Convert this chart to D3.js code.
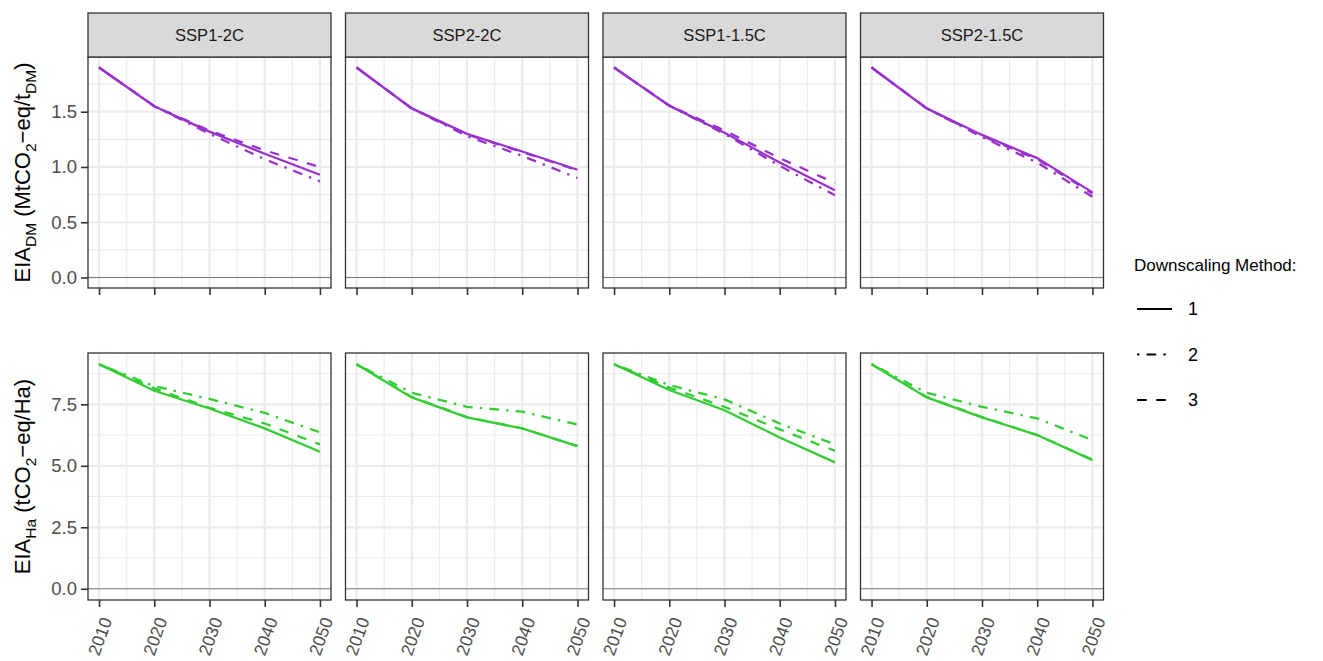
<!DOCTYPE html>
<html>
<head>
<meta charset="utf-8">
<script src="https://cdn.jsdelivr.net/npm/d3@7"></script>
<style>
  body { margin: 0; background: #fff; }
  svg { display: block; font-family: "Liberation Sans", Arial, sans-serif; }
</style>
</head>
<body>
<div id="chart"></div>
<script>
// data
const years = [2010, 2020, 2030, 2040, 2050];
const scenarios = ["SSP1-2C", "SSP2-2C", "SSP1-1.5C", "SSP2-1.5C"];
const methods = ["1", "2", "3"];

// EIA_DM (MtCO2-eq / t_DM) — one row per scenario
const dmMethod1 = [
  [1.90, 1.55, 1.32, 1.12, 0.93],
  [1.90, 1.53, 1.30, 1.14, 0.975],
  [1.90, 1.555, 1.31, 1.04, 0.79],
  [1.90, 1.53, 1.29, 1.08, 0.77]
];
const dmMethod2 = [
  [1.90, 1.55, 1.30, 1.07, 0.87],
  [1.90, 1.53, 1.28, 1.10, 0.90],
  [1.90, 1.555, 1.30, 1.01, 0.745],
  [1.90, 1.53, 1.27, 1.04, 0.73]
];
const dmMethod3 = [
  [1.90, 1.55, 1.33, 1.15, 1.00],
  [1.90, 1.53, 1.295, 1.135, 0.97],
  [1.90, 1.555, 1.33, 1.08, 0.855],
  [1.90, 1.53, 1.28, 1.07, 0.76]
];

// EIA_Ha (tCO2-eq / Ha)
const haMethod1 = [
  [9.13, 8.05, 7.33, 6.52, 5.57],
  [9.13, 7.78, 6.97, 6.52, 5.80],
  [9.13, 8.08, 7.26, 6.15, 5.14],
  [9.13, 7.78, 6.97, 6.25, 5.23]
];
const haMethod2 = [
  [9.13, 8.24, 7.72, 7.15, 6.36],
  [9.13, 7.97, 7.40, 7.20, 6.68],
  [9.13, 8.28, 7.70, 6.72, 5.87],
  [9.13, 7.97, 7.40, 6.93, 6.04]
];
const haMethod3 = [
  [9.13, 8.15, 7.36, 6.72, 5.87],
  [9.13, 7.80, 6.98, 6.52, 5.80],
  [9.13, 8.18, 7.40, 6.48, 5.61],
  [9.13, 7.80, 6.98, 6.25, 5.25]
];

const dmTicks = [0, 0.5, 1.0, 1.5];
const dmMinor = [0.25, 0.75, 1.25, 1.75];
const haTicks = [0, 2.5, 5.0, 7.5];
const haMinor = [1.25, 3.75, 6.25, 8.75];
const yearMinor = [2015, 2025, 2035, 2045];

// layout
const W = 1323, H = 661;
const panelLeft = 88, panelStep = 257.5, panelW = 243;
const tickLen = 7;
const dashes = { "1": null, "2": "2.4,7.2,9.6,7.2", "3": "9.6,9.6" };

const svg = d3.select("#chart").append("svg")
  .attr("width", W)
  .attr("height", H);

const x = d3.scaleLinear()
  .domain([2008, 2052])
  .range([0, panelW]);

// 5% expansion like ggplot
function expanded(series) {
  const all = series.flat().flat();
  const lo = Math.min(0, d3.min(all)), hi = d3.max(all);
  const pad = (hi - lo) * 0.05;
  return [lo - pad, hi + pad];
}

const rows = [
  {top: 57, bottom: 288, strip: true, color: "#9932CC",
   series: [dmMethod1, dmMethod2, dmMethod3], ticks: dmTicks, minor: dmMinor,
   title: [["EIA", 0], ["DM", 1], [" (MtCO", 0], ["2", 1], ["\u2212eq/t", 0], ["DM", 1], [")", 0]]},
  {top: 353, bottom: 600, strip: false, color: "#32CD32",
   series: [haMethod1, haMethod2, haMethod3], ticks: haTicks, minor: haMinor,
   title: [["EIA", 0], ["Ha", 1], [" (tCO", 0], ["2", 1], ["\u2212eq/Ha)", 0]]}
];

rows.forEach((row, r) => {
  const y = d3.scaleLinear()
    .domain(expanded(row.series))
    .range([row.bottom - row.top, 0]);
  const ph = row.bottom - row.top;

  const line = d3.line()
    .x((d, i) => x(years[i]))
    .y(d => y(d));

  scenarios.forEach((sc, s) => {
    const g = svg.append("g")
      .attr("transform", `translate(${panelLeft + s * panelStep},${row.top})`);

    // grid
    g.selectAll(".minor-y").data(row.minor).enter().append("line")
      .attr("x1", 0).attr("x2", panelW)
      .attr("y1", d => y(d)).attr("y2", d => y(d))
      .attr("stroke", "#EBEBEB").attr("stroke-width", 1.1);
    g.selectAll(".minor-x").data(yearMinor).enter().append("line")
      .attr("y1", 0).attr("y2", ph)
      .attr("x1", d => x(d)).attr("x2", d => x(d))
      .attr("stroke", "#EBEBEB").attr("stroke-width", 1.1);
    g.selectAll(".major-y").data(row.ticks).enter().append("line")
      .attr("x1", 0).attr("x2", panelW)
      .attr("y1", d => y(d)).attr("y2", d => y(d))
      .attr("stroke", "#EBEBEB").attr("stroke-width", 2.2);
    g.selectAll(".major-x").data(years).enter().append("line")
      .attr("y1", 0).attr("y2", ph)
      .attr("x1", d => x(d)).attr("x2", d => x(d))
      .attr("stroke", "#EBEBEB").attr("stroke-width", 2.2);

    // zero line
    g.append("line")
      .attr("x1", 0).attr("x2", panelW)
      .attr("y1", y(0)).attr("y2", y(0))
      .attr("stroke", "#7F7F7F").attr("stroke-width", 1.2);

    // series
    methods.forEach((m, k) => {
      g.append("path")
        .datum(row.series[k][s])
        .attr("d", line)
        .attr("fill", "none")
        .attr("stroke", row.color)
        .attr("stroke-width", 2.3)
        .attr("stroke-dasharray", dashes[m]);
    });

    // border
    g.append("rect")
      .attr("width", panelW).attr("height", ph)
      .attr("fill", "none")
      .attr("stroke", "#333333").attr("stroke-width", 1.3);

    // strip
    if (row.strip) {
      g.append("rect")
        .attr("y", -44).attr("width", panelW).attr("height", 44)
        .attr("fill", "#D9D9D9")
        .attr("stroke", "#333333").attr("stroke-width", 1.3);
      g.append("text")
        .attr("x", panelW / 2).attr("y", -22).attr("dy", "0.35em")
        .attr("text-anchor", "middle")
        .attr("fill", "#1A1A1A")
        .style("font-size", "16.5px")
        .text(sc);
    }

    // x axis
    const xAxis = g.append("g")
      .attr("transform", `translate(0,${ph})`)
      .call(d3.axisBottom(x).tickValues(years).tickSize(tickLen).tickSizeOuter(0).tickFormat(d3.format("d")));
    xAxis.select(".domain").remove();
    xAxis.selectAll("line").attr("stroke", "#333333").attr("stroke-width", 1.6);
    if (r === rows.length - 1) {
      xAxis.selectAll("text")
        .attr("x", 0).attr("y", 0).attr("dy", "0.35em")
        .attr("transform", `translate(7,${tickLen + 11}) rotate(-70)`)
        .style("text-anchor", "end")
        .style("font-size", "17.5px")
        .style("font-family", "Liberation Sans, Arial, sans-serif")
        .attr("fill", "#4D4D4D");
    } else {
      xAxis.selectAll("text").remove();
    }

    // y axis on first column only
    if (s === 0) {
      const yAxis = g.append("g")
        .call(d3.axisLeft(y).tickValues(row.ticks).tickSize(tickLen).tickSizeOuter(0).tickFormat(d3.format(".1f")));
      yAxis.select(".domain").remove();
      yAxis.selectAll("line").attr("stroke", "#333333").attr("stroke-width", 1.6);
      yAxis.selectAll("text")
        .attr("x", -tickLen - 4)
        .style("font-size", "18.5px")
        .style("font-family", "Liberation Sans, Arial, sans-serif")
        .attr("fill", "#4D4D4D");
    }
  });

  // y axis title
  const t = svg.append("text")
    .attr("transform", `translate(30,${(row.top + row.bottom) / 2}) rotate(-90)`)
    .attr("text-anchor", "middle")
    .attr("fill", "#000")
    .style("font-size", "22px");
  let shifted = 0;
  row.title.forEach(([txt, sub]) => {
    const dy = sub ? 6 - shifted : -shifted;
    t.append("tspan")
      .attr("dy", dy)
      .style("font-size", sub ? "15.5px" : "22px")
      .text(txt);
    shifted = sub ? 6 : 0;
  });
});

// legend
const legend = svg.append("g").attr("transform", "translate(1134,265)");
legend.append("text")
  .attr("dy", "0.35em")
  .style("font-size", "17px")
  .text("Downscaling Method:");
const keyY = d3.scalePoint().domain(methods).range([44, 135]);
methods.forEach(m => {
  legend.append("line")
    .attr("x1", 3).attr("x2", 38)
    .attr("y1", keyY(m)).attr("y2", keyY(m))
    .attr("stroke", "#000").attr("stroke-width", 2.2)
    .attr("stroke-dasharray", dashes[m]);
  legend.append("text")
    .attr("x", 54).attr("y", keyY(m)).attr("dy", "0.35em")
    .style("font-size", "18px")
    .text(m);
});
</script>
</body>
</html>
